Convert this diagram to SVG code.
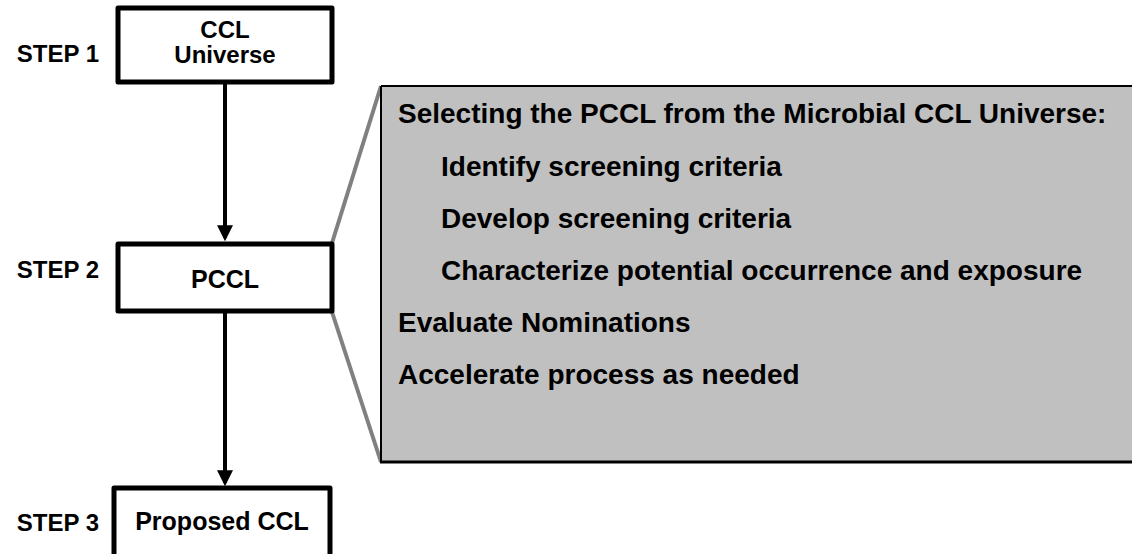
<svg xmlns="http://www.w3.org/2000/svg" width="1132" height="554" viewBox="0 0 1132 554">
<style>
.box{fill:#fff;stroke:#000;stroke-width:5;stroke-linejoin:round}
.t{font-family:"Liberation Sans",Arial,sans-serif;font-weight:bold;fill:#000}
.c{font-size:25px;text-anchor:middle}
.u{font-size:24px;text-anchor:middle}
.s{font-size:24px;text-anchor:end}
.p{font-size:28px}
.g{stroke:#808080;stroke-width:4;fill:none}
</style>
<defs>
<marker id="ah" markerWidth="4" markerHeight="4" refX="3.2" refY="2" orient="auto" markerUnits="strokeWidth">
<path d="M0,0 L4,2 L0,4 Z" fill="#000"/>
</marker>
</defs>
<g id="callout-lines">
<line class="g" x1="332" y1="243" x2="381" y2="86"/>
<line class="g" x1="332" y1="312" x2="381" y2="462"/>
</g>
<g id="detail">
<path d="M1132,86 L381,86 L381,462 L1132,462" fill="#c0c0c0" stroke="none"/>
<line x1="381" y1="86" x2="1132" y2="86" stroke="#000" stroke-width="2"/>
<line x1="381" y1="86" x2="381" y2="463" stroke="#000" stroke-width="2"/>
<line x1="380" y1="462" x2="1132" y2="462" stroke="#000" stroke-width="3"/>
<text class="t p" x="398" y="123">Selecting the PCCL from the Microbial CCL Universe:</text>
<text class="t p" x="441" y="176">Identify screening criteria</text>
<text class="t p" x="441" y="228">Develop screening criteria</text>
<text class="t p" x="441" y="280">Characterize potential occurrence and exposure</text>
<text class="t p" x="398" y="332">Evaluate Nominations</text>
<text class="t p" x="398" y="384">Accelerate process as needed</text>
</g>
<g id="connectors">
<line x1="225" y1="82" x2="225" y2="238" stroke="#000" stroke-width="4" marker-end="url(#ah)"/>
<line x1="225" y1="311" x2="225" y2="483" stroke="#000" stroke-width="4" marker-end="url(#ah)"/>
</g>
<g id="step1">
<rect class="box" x="118" y="8" width="214" height="74"/>
<text class="t u" x="225" y="38">CCL</text>
<text class="t u" x="225" y="63">Universe</text>
<text class="t s" x="99" y="62">STEP 1</text>
</g>
<g id="step2">
<rect class="box" x="118" y="244" width="214" height="67"/>
<text class="t c" x="225" y="288">PCCL</text>
<text class="t s" x="99" y="278">STEP 2</text>
</g>
<g id="step3">
<rect class="box" x="114" y="488" width="216" height="80"/>
<text class="t c" x="222" y="530">Proposed CCL</text>
<text class="t s" x="99" y="531">STEP 3</text>
</g>
</svg>
